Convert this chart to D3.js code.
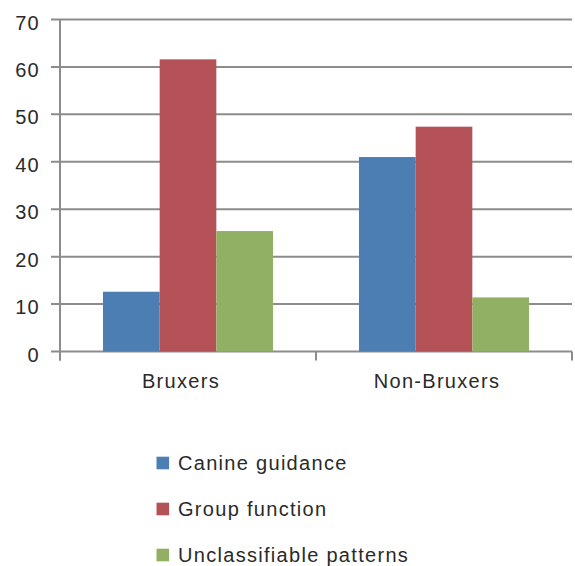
<!DOCTYPE html>
<html><head><meta charset="utf-8">
<script src="https://cdn.jsdelivr.net/npm/d3@7"></script>
<style>
html,body{margin:0;padding:0;background:#fff;}
text{font-family:"Liberation Sans","Arial",sans-serif;font-weight:400;fill:#2a2a2a;letter-spacing:1.3px;}
</style></head>
<body><svg id="c" width="575" height="566"></svg>
<script>
const categories = ["Bruxers", "Non-Bruxers"];
const seriesNames = ["Canine guidance", "Group function", "Unclassifiable patterns"];
const canineGuidance = [12.6, 41.0];
const groupFunction = [61.6, 47.4];
const unclassifiable = [25.4, 11.4];
const yTicks = [0, 10, 20, 30, 40, 50, 60, 70];
const colors = ["#4c7db3", "#b45257", "#92b064"];

(function () {
const seriesValues = [canineGuidance, groupFunction, unclassifiable];
const svg = d3.select("#c");
const mLeft = 60, mRight = 572, mTop = 19.5, mBottom = 351.5;

const y = d3.scaleLinear().domain([0, 70]).range([mBottom, mTop]);
const x0 = d3.scaleBand().domain(categories).range([mLeft, mRight]).paddingInner(0).paddingOuter(0);
const groupW = x0.bandwidth() * 0.664;
const x1 = d3.scaleBand().domain(seriesNames).range([0, groupW]).padding(0);

// gridlines
svg.append("g").selectAll("line").data(yTicks).join("line")
  .attr("x1", mLeft - 9).attr("x2", mRight)
  .attr("y1", d => y(d)).attr("y2", d => y(d))
  .attr("stroke", "#8c8c8c").attr("stroke-width", 2);

// bars
const groups = svg.append("g").selectAll("g").data(categories).join("g")
  .attr("transform", c => `translate(${x0(c) + (x0.bandwidth() - groupW) / 2},0)`);
groups.selectAll("rect").data((c, i) => seriesNames.map((s, j) => ({s, j, v: seriesValues[j][i]})))
  .join("rect")
  .attr("x", d => x1(d.s)).attr("width", x1.bandwidth())
  .attr("y", d => y(d.v)).attr("height", d => y(0) - y(d.v))
  .attr("fill", d => colors[d.j]);

// y axis line
svg.append("line").attr("x1", mLeft).attr("x2", mLeft).attr("y1", mTop).attr("y2", mBottom + 9)
  .attr("stroke", "#8c8c8c").attr("stroke-width", 2);
// x axis ticks
const xt = [mLeft, ...categories.map(c => x0(c) + x0.bandwidth())];
svg.append("g").selectAll("line").data(xt).join("line")
  .attr("x1", d => d).attr("x2", d => d).attr("y1", mBottom).attr("y2", mBottom + 9)
  .attr("stroke", "#8c8c8c").attr("stroke-width", 2);

// y labels
svg.append("g").selectAll("text").data(yTicks).join("text")
  .attr("x", 40).attr("y", d => y(d) + 10).attr("text-anchor", "end")
  .attr("font-size", 20).text(d => d);

// x labels
svg.append("g").selectAll("text").data(categories).join("text")
  .attr("x", c => x0(c) + x0.bandwidth() / 2 - 7).attr("y", 387.5).attr("text-anchor", "middle")
  .attr("font-size", 20).text(c => c);

// legend
const lg = svg.append("g").selectAll("g").data(seriesNames).join("g")
  .attr("transform", (d, i) => `translate(156.5,${463 + i * 46})`);
lg.append("rect").attr("x", 0).attr("y", -6.3).attr("width", 12.6).attr("height", 12.6)
  .attr("fill", (d, i) => colors[i]);
lg.append("text").attr("x", 21.5).attr("y", 7).attr("font-size", 20).text(d => d);
})();
</script></body></html>
